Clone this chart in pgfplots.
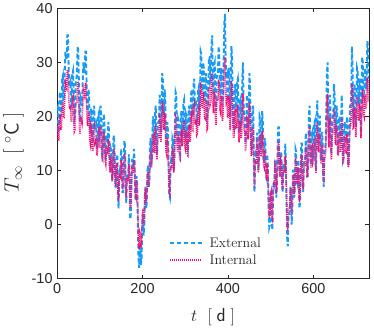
\documentclass[border=0pt]{standalone}
\usepackage{pgfplots}
\pgfplotsset{compat=1.18}
\usepackage{pgfplotstable}
\usepackage{fontspec}
\newfontfamily\tickfont{Liberation Sans}
\definecolor{extblue}{RGB}{25,155,245}
\definecolor{intpink}{RGB}{250,10,115}
\pgfplotstableread{
t E I
0 21 17.5
1.5 21.5 18.3
3 17 15.5
4.5 18 15.7
6 24 19.5
7.5 24.5 20.3
9 20 17.5
10.5 21 18
12 27 22
13.5 27.5 22.7
15 23 19.8
16.5 23 19.8
18 28 23.3
19.5 32 26.2
21 31 25.5
22.5 30.5 25.2
24 35 28.5
25.5 35 28.6
27 30 25.2
28.5 25.5 21.6
30 26 21.5
31.5 26.5 22
33 22 19
34.5 22.5 19.2
36 28 23
37.5 28.5 23.5
39 24 20.5
40.5 19.5 17.2
42 20 17.5
43.5 26 21.8
45 27 22.5
46.5 27.5 22.7
48 33 26.5
49.5 32.5 26.3
51 27 22.5
52.5 20.5 17.9
54 19 16.8
55.5 23.5 19.9
57 23 19.5
58.5 22 18.9
60 26 21.8
61.5 30 24.7
63 29 24
64.5 28 23.2
66 32 26
67.5 32 26.1
69 27 22.6
70.5 21.5 18.6
72 21 18.2
73.5 25 20.9
75 24 20
76.5 18 15.7
78 17 15
79.5 21.5 18.2
81 21 17.7
82.5 15.5 13.9
84 15 13.6
85.5 21 17.7
87 22 18.2
88.5 17.5 15
90 18 15.3
91.5 18.5 15.9
93 14 12.8
94.5 14.5 13
96 20 16.8
97.5 20.5 17.3
99 16 14.2
100.5 16.5 14.4
102 22 18.2
103.5 20 16.9
105 13 12
106.5 12.5 11.6
108 17 14.8
109.5 20.5 17.2
111 19 16
112.5 13 11.8
114 12 11.2
115.5 16.5 14.3
117 16 13.8
118.5 15 13
120 19 15.8
121.5 17.5 15
123 11 10.5
124.5 10 9.6
126 14 12.2
127.5 13.5 12
129 8 8.2
130.5 9.5 9.1
132 16 13.6
133.5 16.5 14
135 12 10.7
136.5 7 7.3
138 7 7.4
139.5 12.5 11.1
141 13 11.2
142.5 5.5 6
144 3 4.4
145.5 9 8.6
147 10 9.1
148.5 9.5 8.8
150 14 12
151.5 12.5 11.2
153 6 6.8
154.5 6 6.6
156 11 10
157.5 15.5 13.2
159 15 12.8
160.5 7 7.1
162 4 5
163.5 9 8.6
165 9 8.5
166.5 8.5 8
168 13 11.2
169.5 9.5 8.9
171 1 3
172.5 1.5 3.2
174 7 7
175.5 12 10.6
177 12 10.6
178.5 10.5 9.5
180 14 12
181.5 12 10.7
183 5 5.8
184.5 4.5 5.2
186 9 8.2
187.5 7.5 7.2
189 1 2.6
190.5 -6 -2.8
192 -8 -4.5
193.5 -3.5 -1.4
195 -4 -1.8
196.5 -7.5 -4.2
198 -6 -2.9
199.5 0.5 1.8
201 2 2.9
202.5 -2 0.2
204 -1 1
205.5 5.5 5.6
207 7 6.7
208.5 3 4
210 4 4.9
211.5 10 9.2
213 11 9.8
214.5 7 7
216 8 7.9
217.5 14.5 12.6
219 16 13.6
220.5 11.5 10.5
222 12 11
223.5 18.5 15.7
225 20 16.7
226.5 15 13.3
228 15 13.4
229.5 21 17.7
231 22 18.3
232.5 15 13.4
234 13 12
235.5 18.5 15.8
237 19 16
238.5 19 16.1
240 24 19.8
241.5 23 19.3
243 17 15.2
244.5 20 17.2
246 28 22.8
247.5 27 22.2
249 21 18
250.5 20.5 17.5
252 25 20.6
253.5 22.5 18.9
255 15 13.6
256.5 14.5 13
258 19 16
259.5 17.5 15
261 11 10.3
262.5 5.5 6.3
264 5 5.8
265.5 11 10
267 12 10.6
268.5 11.5 10.4
270 16 13.8
271.5 15.5 13.5
273 10 9.6
274.5 12.5 11.4
276 20 16.8
277.5 24.5 20.1
279 24 19.8
280.5 17 14.9
282 15 13.5
283.5 19.5 16.6
285 19 16
286.5 13.5 12.2
288 13 12
289.5 19.5 16.6
291 21 17.6
292.5 16.5 14.5
294 17 15
295.5 22.5 18.8
297 23 19
298.5 17 14.8
300 16 14.2
301.5 20.5 17.3
303 20 16.8
304.5 14.5 13
306 14 12.8
307.5 20.5 17.4
309 22 18.4
310.5 17.5 15.3
312 18 15.7
313.5 24 20
315 25 20.6
316.5 20 17.2
318 20 17.3
319.5 26 21.6
321 27 22.2
322.5 22 18.7
324 22 18.7
325.5 23 19.5
327 19 16.6
328.5 19.5 16.9
330 25 20.7
331.5 25.5 21.3
333 21 18.3
334.5 24 20.4
336 32 26
337.5 31.5 25.8
339 26 22
340.5 25.5 21.5
342 30 24.5
343.5 29 24
345 23 19.8
346.5 23 19.6
348 28 23
349.5 26.5 22.1
351 20 17.6
352.5 20.5 17.9
354 26 21.8
355.5 31 25.4
357 31 25.3
358.5 26.5 22.3
360 27 22.8
361.5 33.5 27.2
363 35 28
364.5 27 22.5
366 24 20.6
367.5 29.5 24.4
369 30 24.6
370.5 23 19.7
372 21 18.4
373.5 27 22.6
375 28 23.2
376.5 28 23.2
378 33 26.8
379.5 31.5 25.9
381 25 21.3
382.5 24.5 20.8
384 29 23.8
385.5 28 23.3
387 22 19.2
388.5 24 20.6
390 31 25.6
391.5 37.5 30.1
393 39 31
394.5 30.5 25
396 27 22.6
397.5 27.5 23
399 23 19.8
400.5 23.5 20
402 29 23.8
403.5 27 22.5
405 20 17.5
406.5 24 20.3
408 33 26.6
409.5 31 25.2
411 24 20.2
412.5 18.5 16.3
414 18 16
415.5 24.5 20.5
417 26 21.4
418.5 21 17.9
420 21 18
421.5 26.5 21.9
423 27 22.2
424.5 19.5 16.9
426 17 15.2
427.5 22.5 19
429 23 19.2
430.5 18.5 16
432 19 16.5
433.5 27 22.2
435 30 24.2
436.5 22.5 19
438 20 17.3
439.5 20 17.3
441 15 13.6
442.5 17 14.9
444 24 19.8
445.5 23.5 19.6
447 18 15.8
448.5 20.5 17.4
450 28 22.6
451.5 26 21.4
453 19 16.5
454.5 14 12.8
456 14 12.8
457.5 20.5 17.2
459 22 18
460.5 11.5 10.6
462 6 6.8
463.5 12 11
465 13 11.5
466.5 12.5 11.2
468 17 14.6
469.5 16 13.9
471 10 9.6
472.5 12.5 11.3
474 20 16.6
475.5 19.5 16.4
477 14 12.6
478.5 15 13.2
480 21 17.4
481.5 19 16.1
483 12 11.2
484.5 11.5 10.7
486 16 13.8
487.5 15 13.1
489 9 8.8
490.5 8.5 8.2
492 13 11.3
493.5 10.5 9.6
495 3 4.2
496.5 -0.5 1.2
498 0 1.8
499.5 5.5 5.7
501 6 6
502.5 0 1.8
504 -1 1.2
505.5 6 6.2
507 8 7.5
508.5 7.5 7.3
510 12 10.7
511.5 11 10
513 5 5.8
514.5 7 7.2
516 14 12.2
517.5 18 15.4
519 18 15
520.5 11 10.1
522 9 8.8
523.5 13.5 11.9
525 13 11.4
526.5 7 7.2
528 6 6.5
529.5 11 10
531 11 10
532.5 10.5 9.6
534 15 12.8
535.5 12 10.7
537 4 5
538.5 -2.5 0.1
540 -4 -1.2
541.5 1.5 2.7
543 2 3
544.5 2 3.1
546 7 6.8
547.5 6 6.1
549 0 1.8
550.5 2.5 3.6
552 10 9
553.5 10 9.1
555 5 5.6
556.5 7 7
558 14 12
559.5 13.5 11.8
561 8 7.9
562.5 7.5 7.5
564 12 10.6
565.5 10 9.2
567 3 4.2
568.5 4 4.9
570 10 9.2
571.5 15 12.8
573 15 12.8
574.5 8 7.9
576 6 6.6
577.5 11.5 10.5
579 12 10.8
580.5 12 10.9
582 17 14.5
583.5 15.5 13.5
585 9 8.8
586.5 9 8.8
588 14 12.4
589.5 20.5 17.1
591 22 18.2
592.5 14 12.6
594 11 10.5
595.5 16.5 14.4
597 17 14.6
598.5 12.5 11.4
600 13 11.8
601.5 18.5 15.7
603 19 16
604.5 12 11
606 10 9.6
607.5 19 16.1
609 23 19
610.5 16.5 14.4
612 15 13.4
613.5 20 16.9
615 20 16.8
616.5 13.5 12.2
618 12 11.2
619.5 17 14.7
621 17 14.6
622.5 9.5 9.3
624 7 7.6
625.5 13 11.8
627 14 12.4
628.5 15 13.4
630 21 18
631.5 28 22.9
633 30 24.2
634.5 20.5 17.5
636 16 14.3
637.5 22.5 18.9
639 24 19.8
640.5 16 14.1
642 13 12
643.5 19 16.2
645 20 16.8
646.5 20.5 17.3
648 26 21.4
649.5 24 20
651 17 15
652.5 17 14.9
654 22 18.4
655.5 20.5 17.4
657 14 12.8
658.5 14.5 13
660 20 16.8
661.5 20 16.9
663 15 13.4
664.5 17 14.8
666 24 19.8
667.5 20.5 17.3
669 12 11.2
670.5 12.5 11.5
672 18 15.4
673.5 19 16.2
675 15 13.4
676.5 15 13.3
678 20 16.8
679.5 18 15.5
681 11 10.6
682.5 11.5 10.9
684 17 14.8
685.5 22 18.4
687 22 18.4
688.5 25 20.4
690 33 26
691.5 29 23.7
693 20 17.8
694.5 20.5 17.9
696 26 21.6
697.5 24.5 20.7
699 18 16.2
700.5 21 18.1
702 29 23.6
703.5 28.5 23.4
705 23 19.6
706.5 22.5 19.2
708 27 22.4
709.5 24.5 21
711 17 16
712.5 21.5 18.7
714 31 25
715.5 30 24.6
717 24 20.5
718.5 23.5 20
720 28 23.2
721.5 29 24.1
723 25 21.4
724.5 27 22.5
726 34 27.2
727.5 33 26.8
729 27 22.8
}\datatable
\begin{document}
\begin{tikzpicture}
\begin{axis}[
  scale only axis,
  width=314pt, height=272pt,
  xmin=0, xmax=730, ymin=-10, ymax=40,
  xtick={0,200,400,600}, ytick={-10,0,10,20,30,40},
  tick align=inside, tick pos=both,
  major tick length=4pt,
  axis line style={draw=black!85, line width=0.8pt},
  tick style={draw=black!85, line width=0.8pt},
  /pgf/number format/assume math mode=true,
  tick label style={font=\tickfont\fontsize{14.5}{16}\selectfont, text=black!85},
  xticklabel style={yshift=-1pt},
  yticklabel style={xshift=-1pt},
  xlabel={$t\ \;[\;\mathsf{d}\;]$},
  ylabel={$T_\infty\;\;[\;{}^\circ\mathsf{C}\;]$},
  xlabel style={font=\fontsize{19}{22}\selectfont, text=black!85, inner sep=1pt, yshift=-11pt},
  ylabel style={font=\fontsize{21}{24}\selectfont, text=black!85, yshift=1pt, xshift=-9pt},
  legend style={at={(0.355,0.036)}, anchor=south west, draw=none, fill=none,
    font=\fontsize{14}{16}\selectfont, row sep=2pt, text=black!85,
    inner sep=1pt},
  legend cell align=left,
  legend image code/.code={\draw[#1] (0pt,0pt) -- (32pt,0pt); \path (37pt,0pt);},
]
\addplot[extblue, line width=1.9pt, dash pattern=on 4.5pt off 2.5pt] table[x=t, y=E] {\datatable};
\addlegendentry{External}
\addplot[intpink, line width=1.6pt, dash pattern=on 1pt off 1pt] table[x=t, y=I] {\datatable};
\addlegendentry{Internal}
\end{axis}
\path (current axis.south east) ++(5pt,0pt);
\end{tikzpicture}
\end{document}
